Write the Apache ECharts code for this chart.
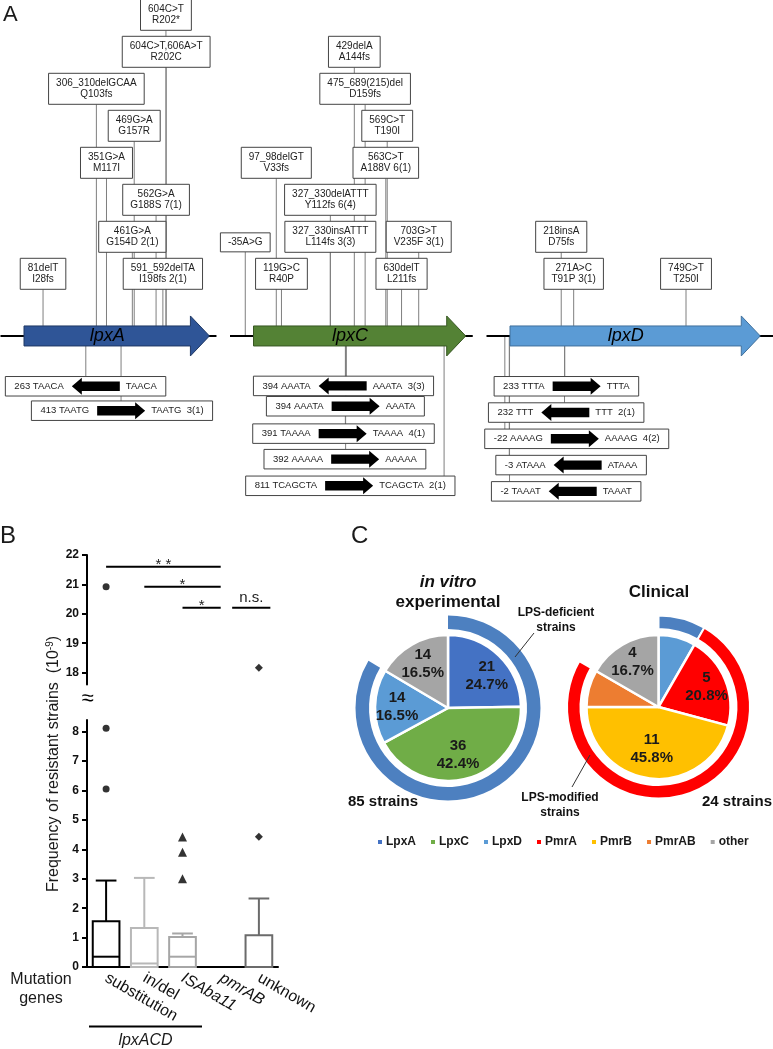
<!DOCTYPE html>
<html><head><meta charset="utf-8">
<script src="https://cdn.jsdelivr.net/npm/echarts@6/dist/echarts.min.js"></script>
<style>html,body{margin:0;padding:0;background:#fff}#c{width:773px;height:1049px}</style>
</head><body><div id="c"></div>
<script>
// ================= DATA =================
// ---- Panel A: genes ----
const geneNames = ['lpxA', 'lpxC', 'lpxD'];
const geneLengths = [789, 903, 1065];          // bp
// point mutations above the genes: [position (nt), nucleotide change, protein change]
const lpxAMutations = [
  [604, '604C>T', 'R202*'],
  [605, '604C>T,606A>T', 'R202C'],
  [308, '306_310delGCAA', 'Q103fs'],
  [469, '469G>A', 'G157R'],
  [351, '351G>A', 'M117I'],
  [562, '562G>A', 'G188S 7(1)'],
  [461, '461G>A', 'G154D 2(1)'],
  [81, '81delT', 'I28fs'],
  [591, '591_592delTA', 'I198fs 2(1)']
];
const lpxCMutations = [
  [429, '429delA', 'A144fs'],
  [475, '475_689(215)del', 'D159fs'],
  [569, '569C>T', 'T190I'],
  [97, '97_98delGT', 'V33fs'],
  [563, '563C>T', 'A188V 6(1)'],
  [327, '327_330delATTT', 'Y112fs 6(4)'],
  [-35, '-35A>G', ''],
  [327, '327_330insATTT', 'L114fs 3(3)'],
  [703, '703G>T', 'V235F 3(1)'],
  [119, '119G>C', 'R40P'],
  [630, '630delT', 'L211fs']
];
const lpxDMutations = [
  [218, '218insA', 'D75fs'],
  [271, '271A>C', 'T91P 3(1)'],
  [749, '749C>T', 'T250I']
];
// ISAba11 insertions below the genes: [position, left target site, orientation (1 = ->, -1 = <-), right target site]
const lpxAInsertions = [
  [263, '263 TAACA', -1, 'TAACA'],
  [413, '413 TAATG', 1, 'TAATG  3(1)']
];
const lpxCInsertions = [
  [394, '394 AAATA', -1, 'AAATA  3(3)'],
  [394, '394 AAATA', 1, 'AAATA'],
  [391, '391 TAAAA', 1, 'TAAAA  4(1)'],
  [392, '392 AAAAA', 1, 'AAAAA'],
  [811, '811 TCAGCTA', 1, 'TCAGCTA  2(1)']
];
const lpxDInsertions = [
  [233, '233 TTTA', 1, 'TTTA'],
  [232, '232 TTT', -1, 'TTT  2(1)'],
  [-22, '-22 AAAAG', 1, 'AAAAG  4(2)'],
  [-3, '-3 ATAAA', -1, 'ATAAA'],
  [-2, '-2 TAAAT', -1, 'TAAAT']
];

// ---- Panel B: frequency of resistant strains (10^-9) ----
const categories = ['substitution', 'in/del', 'ISAba11', 'pmrAB', 'unknown'];
// [Q1, median, Q3, upper whisker]
const boxStats = [
  [0, 0.35, 1.56, 2.94],
  [0, 0.12, 1.33, 3.03],
  [0, 0.35, 1.02, 1.14],
  [0, 0, 0, 0],
  [0, 0, 1.08, 2.33]
];
const outliers = [
  [6.05, 8.12, 20.92],
  [],
  [3.0, 3.9, 4.42],
  [],
  [4.43, 18.17]
];
// significance brackets: [from category, to category, height, label]
const sigBars = [
  [0, 3, 21.6, '* *'],
  [1, 3, 20.92, '*'],
  [2, 3, 20.21, '*'],
  [3.3, 4.3, 20.21, 'n.s.']
];
const lowerTicks = [0, 1, 2, 3, 4, 5, 6, 7, 8];
const upperTicks = [18, 19, 20, 21, 22];

// ---- Panel C: pies ----
const inVitroNames = ['LpxA', 'LpxC', 'LpxD', 'other'];
const inVitroValues = [21, 36, 14, 14];
const clinicalNames = ['LpxD', 'PmrA', 'PmrB', 'PmrAB', 'other'];
const clinicalValues = [2, 5, 11, 2, 4];
const legendNames = ['LpxA', 'LpxC', 'LpxD', 'PmrA', 'PmrB', 'PmrAB', 'other'];

// ================= LAYOUT / STYLE =================
const FONT = "'Liberation Sans', Arial, Helvetica, sans-serif";
const PX_PER_NT = 0.235;
const geneLeftPx = [24, 253.5, 510];
const geneFlankRight = [30, 30, 60];
const geneFill = ['#2f5597', '#548235', '#5b9bd5'];
const geneStroke = ['#1f3864', '#385723', '#41719c'];
const GENE_LEVEL = 8.68;
const mutationRows = [
  [0, 1, 2, 3, 4, 5, 6, 7, 7],
  [1, 2, 3, 4, 4, 5, 6.15, 6, 6, 7, 7],
  [6, 7, 7]
];
const insertionRows = [
  [10.04, 10.70],
  [10.03, 10.58, 11.32, 12.01, 12.73],
  [10.04, 10.75, 11.46, 12.17, 12.88]
];
const insertionBoxCentre = [   // nt coordinate the box is centred on
  [262, 417],
  [383, 391, 383, 389, 412],
  [240, 239, 284, 260, 239]
];
const clinicalLabelShift = [[0, 0], [0, 0], [0, -10], [0, 0], [0, 0]];
const inVitroLabelShift = [[3, 4], [-3, -2], [0, 0], [0, 0]];
const pieColor = {LpxA:'#4472c4', LpxC:'#70ad47', LpxD:'#5b9bd5', PmrA:'#ff0000', PmrB:'#ffc000', PmrAB:'#ed7d31', other:'#a5a5a5'};
const ringBlue = '#4d80c0', ringRed = '#ff0000';
const boxColors = ['#000000', '#b8b8b8', '#a6a6a6', '#999999', '#6b6b6b'];
const outlierSymbols = ['circle', 'circle', 'triangle', 'circle', 'diamond'];

const ctx = document.createElement('canvas').getContext('2d');
function tw(t, size, weight) { ctx.font = (weight || 'normal') + ' ' + size + 'px ' + FONT; return ctx.measureText(t).width; }
function txt(x, y, text, o) {
  o = o || {};
  return {type: 'text', x: x, y: y, rotation: o.rotation || 0, z: 50, silent: true,
    style: Object.assign({text: text, fontSize: o.size || 12, fontFamily: FONT, fontWeight: o.weight || 'normal',
      fontStyle: o.style || 'normal', fill: o.color || '#1a1a1a',
      align: o.align || 'center', textAlign: o.align || 'center',
      verticalAlign: o.va || 'middle', textVerticalAlign: o.va || 'middle', lineHeight: o.lh}, o.extra || {})};
}

const allMutations = [lpxAMutations, lpxCMutations, lpxDMutations];
const allInsertions = [lpxAInsertions, lpxCInsertions, lpxDInsertions];

// ================= SERIES: PANEL A =================
const seriesA = [];
geneNames.forEach((gname, g) => {
  const len = geneLengths[g];
  const muts = allMutations[g], ins = allInsertions[g];
  const geneEdge = (api, pos, side) => {
    const y = api.coord([0, GENE_LEVEL])[1];
    return (pos >= 0 && pos <= len) ? y + side * 10 : y;
  };
  // connectors
  seriesA.push({
    type: 'custom', xAxisIndex: g, yAxisIndex: g, clip: false, z: 1, silent: true,
    data: muts.map((m, i) => [m[0], mutationRows[g][i], 1]).concat(ins.map((m, i) => [m[0], insertionRows[g][i], -1])),
    renderItem: (params, api) => {
      const pos = api.value(0), row = api.value(1), up = api.value(2) > 0;
      const idx = params.dataIndex;
      const c = api.coord([pos, row]);
      let y1, y2;
      if (up) {
        const m = muts[idx];
        const h = m[2] ? 31 : 19;
        y1 = c[1] + h / 2; y2 = geneEdge(api, pos, -1);
      } else {
        y1 = c[1] - 9.75; y2 = geneEdge(api, pos, 1);
      }
      return {type: 'line', shape: {x1: c[0], y1: y1, x2: c[0], y2: y2}, style: {stroke: '#7f7f7f', lineWidth: 1}};
    }
  });
  // gene arrow and backbone
  seriesA.push({
    type: 'custom', xAxisIndex: g, yAxisIndex: g, clip: false, z: 2, silent: true,
    data: [[0, GENE_LEVEL, len]],
    renderItem: (params, api) => {
      const L = api.value(2);
      const s = api.coord([0, GENE_LEVEL]), e = api.coord([L, GENE_LEVEL]);
      const l = api.coord([-100, GENE_LEVEL]), r = api.coord([L + geneFlankRight[g], GENE_LEVEL]);
      const y = s[1], hb = 10, hh = 20, hl = 19;
      return {type: 'group', children: [
        {type: 'line', shape: {x1: l[0], y1: y, x2: r[0], y2: y}, style: {stroke: '#000', lineWidth: 2}},
        {type: 'polygon', shape: {points: [[s[0], y - hb], [e[0] - hl, y - hb], [e[0] - hl, y - hh], [e[0], y], [e[0] - hl, y + hh], [e[0] - hl, y + hb], [s[0], y + hb]]},
          style: {fill: geneFill[g], stroke: geneStroke[g], lineWidth: 1}},
        {type: 'text', x: (s[0] + e[0] - hl) / 2, y: y, style: {text: gname, fontSize: 18, fontStyle: 'italic', fontFamily: FONT, fill: '#000',
          align: 'center', textAlign: 'center', verticalAlign: 'middle', textVerticalAlign: 'middle'}}
      ]};
    }
  });
  // mutation boxes
  seriesA.push({
    type: 'custom', xAxisIndex: g, yAxisIndex: g, clip: false, z: 3, silent: true,
    data: muts.map((m, i) => [m[0], mutationRows[g][i]]),
    renderItem: (params, api) => {
      const m = muts[params.dataIndex];
      const c = api.coord([api.value(0), api.value(1)]);
      const lines = m[2] ? [m[1], m[2]] : [m[1]];
      const w = Math.max.apply(null, lines.map(t => tw(t, 10))) + 15;
      const h = lines.length === 2 ? 31 : 19;
      return {type: 'group', children: [
        {type: 'rect', shape: {x: c[0] - w / 2, y: c[1] - h / 2, width: w, height: h}, style: {fill: '#fff', stroke: '#444', lineWidth: 1}},
        {type: 'text', x: c[0], y: c[1], style: {text: lines.join('\n'), fontSize: 10, fontFamily: FONT, fill: '#222', lineHeight: 11.5,
          align: 'center', textAlign: 'center', verticalAlign: 'middle', textVerticalAlign: 'middle'}}
      ]};
    }
  });
  // insertion boxes
  seriesA.push({
    type: 'custom', xAxisIndex: g, yAxisIndex: g, clip: false, z: 3, silent: true,
    data: ins.map((m, i) => [insertionBoxCentre[g][i], insertionRows[g][i]]),
    renderItem: (params, api) => {
      const m = ins[params.dataIndex];
      const c = api.coord([api.value(0), api.value(1)]);
      const fs = 9.5, lw = tw(m[1], fs), rw = tw(m[3], fs);
      const AW = 48, PAD = 9, G1 = 8, G2 = 6, H = 19.5;
      const W = PAD + lw + G1 + AW + G2 + rw + PAD;
      const x0 = c[0] - W / 2, y = c[1];
      const a0 = x0 + PAD + lw + G1, a1 = a0 + AW;
      const bh = 4.7, hh = 8.5, hl = 10;
      let pts;
      if (m[2] > 0) pts = [[a0, y - bh], [a1 - hl, y - bh], [a1 - hl, y - hh], [a1, y], [a1 - hl, y + hh], [a1 - hl, y + bh], [a0, y + bh]];
      else pts = [[a1, y - bh], [a0 + hl, y - bh], [a0 + hl, y - hh], [a0, y], [a0 + hl, y + hh], [a0 + hl, y + bh], [a1, y + bh]];
      const ts = (t, x) => ({type: 'text', x: x, y: y, style: {text: t, fontSize: fs, fontFamily: FONT, fill: '#222',
        align: 'left', textAlign: 'left', verticalAlign: 'middle', textVerticalAlign: 'middle'}});
      return {type: 'group', children: [
        {type: 'rect', shape: {x: x0, y: y - H / 2, width: W, height: H}, style: {fill: '#fff', stroke: '#444', lineWidth: 1}},
        {type: 'polygon', shape: {points: pts}, style: {fill: '#000'}},
        ts(m[1], x0 + PAD), ts(m[3], a1 + G2)
      ]};
    }
  });
});

// ================= SERIES: PANEL B =================
const seriesB = [];
seriesB.push({
  type: 'custom', xAxisIndex: 4, yAxisIndex: 4, clip: false, z: 5, silent: true,
  data: boxStats.map((s, i) => [i].concat(s)),
  renderItem: (params, api) => {
    const i = api.value(0), q1 = api.value(1), med = api.value(2), q3 = api.value(3), wmax = api.value(4);
    if (!(q3 > 0)) return {type: 'group', children: []};
    const b = api.coord([i, q1]), m = api.coord([i, med]), t = api.coord([i, q3]), w = api.coord([i, wmax]);
    const bw = 26.7, cw = 20.7, col = boxColors[i];
    const st = {stroke: col, lineWidth: 2, fill: null};
    return {type: 'group', children: [
      {type: 'line', shape: {x1: t[0], y1: t[1], x2: w[0], y2: w[1]}, style: st},
      {type: 'line', shape: {x1: w[0] - cw / 2, y1: w[1], x2: w[0] + cw / 2, y2: w[1]}, style: st},
      {type: 'rect', shape: {x: b[0] - bw / 2, y: t[1], width: bw, height: b[1] - t[1]}, style: {stroke: col, lineWidth: 2, fill: 'rgba(255,255,255,0)'}},
      {type: 'line', shape: {x1: m[0] - bw / 2, y1: m[1], x2: m[0] + bw / 2, y2: m[1]}, style: st}
    ]};
  }
});
const lowOut = [], highOut = [];
outliers.forEach((arr, i) => arr.forEach(v => {
  const item = {value: [i, v], symbol: outlierSymbols[i], symbolSize: outlierSymbols[i] === 'triangle' ? 9 : (outlierSymbols[i] === 'diamond' ? 8 : 7)};
  if (v <= 8.4) lowOut.push(item); else highOut.push(item);
}));
seriesB.push({type: 'scatter', xAxisIndex: 4, yAxisIndex: 4, data: lowOut, itemStyle: {color: '#000'}, silent: true, z: 6});
seriesB.push({type: 'scatter', xAxisIndex: 3, yAxisIndex: 3, data: highOut, itemStyle: {color: '#000'}, silent: true, z: 6});
seriesB.push({
  type: 'custom', xAxisIndex: 3, yAxisIndex: 3, clip: false, z: 6, silent: true,
  data: sigBars.map(s => [s[0], s[1], s[2]]),
  renderItem: (params, api) => {
    const p1 = api.coord([api.value(0), api.value(2)]), p2 = api.coord([api.value(1), api.value(2)]);
    const label = sigBars[params.dataIndex][3];
    const isStar = label.indexOf('*') >= 0;
    return {type: 'group', children: [
      {type: 'line', shape: {x1: p1[0], y1: p1[1], x2: p2[0], y2: p2[1]}, style: {stroke: '#000', lineWidth: 2}},
      {type: 'text', x: (p1[0] + p2[0]) / 2, y: p1[1] - (isStar ? 2 : 10), style: {text: label, fontSize: isStar ? 15 : 15, fontFamily: FONT,
        fill: '#222', align: 'center', textAlign: 'center', verticalAlign: 'middle', textVerticalAlign: 'middle'}}
    ]};
  }
});

// ================= SERIES: PANEL C =================
const inVitroTotal = inVitroValues.reduce((a, b) => a + b, 0);
const clinicalTotal = clinicalValues.reduce((a, b) => a + b, 0);
const pieLabel = total => ({show: true, position: 'inside', fontSize: 15, fontWeight: 'bold', fontFamily: FONT, color: '#1a1a1a', lineHeight: 18,
  formatter: p => p.value + '\n' + (p.value / total * 100).toFixed(1) + '%'});
function mainPie(names, values, center, r) {
  return {type: 'pie', center: center, radius: [0, r], startAngle: 90, clockwise: true, silent: true, z: 3,
    label: {show: false}, labelLine: {show: false}, emphasis: {disabled: true},
    itemStyle: {borderColor: '#fff', borderWidth: 2.5},
    data: names.map((n, i) => ({name: n, value: values[i], itemStyle: {color: pieColor[n]}}))};
}
function labelPie(names, values, center, r0, r, total, shifts) {
  return {type: 'pie', center: center, radius: [r0, r], startAngle: 90, clockwise: true, silent: true, z: 4,
    label: pieLabel(total), labelLine: {show: false}, emphasis: {disabled: true}, legendHoverLink: false,
    itemStyle: {color: 'rgba(0,0,0,0)', borderWidth: 0},
    data: names.map((n, i) => ({name: n + ' ', value: values[i], label: {offset: shifts[i]}}))};
}
const deficientIV = inVitroValues.filter((v, i) => inVitroNames[i].indexOf('Lpx') === 0).reduce((a, b) => a + b, 0);
const deficientCl = clinicalValues.filter((v, i) => clinicalNames[i].indexOf('Lpx') === 0).reduce((a, b) => a + b, 0);
const modifiedCl = clinicalValues.filter((v, i) => clinicalNames[i].indexOf('Pmr') === 0).reduce((a, b) => a + b, 0);
const ringBase = {type: 'pie', startAngle: 90, clockwise: true, silent: true, z: 3, label: {show: false}, labelLine: {show: false},
  emphasis: {disabled: true}, legendHoverLink: false};
const seriesC = [
  mainPie(inVitroNames, inVitroValues, [448, 708], 73),
  mainPie(clinicalNames, clinicalValues, [658.5, 707], 72),
  Object.assign({}, ringBase, {center: [448, 708], radius: [79, 92.5],
    data: [{name: 'LPS-deficient strains', value: deficientIV, itemStyle: {color: ringBlue}},
      {name: 'rest', value: inVitroTotal - deficientIV, itemStyle: {color: 'rgba(0,0,0,0)'}}]}),
  Object.assign({}, ringBase, {center: [658.5, 707], radius: [78, 91.5],
    itemStyle: {borderColor: '#fff', borderWidth: 2},
    data: [{name: 'LPS-deficient strains', value: deficientCl, itemStyle: {color: ringBlue}},
      {name: 'LPS-modified strains', value: modifiedCl, itemStyle: {color: ringRed}},
      {name: 'rest', value: clinicalTotal - deficientCl - modifiedCl, itemStyle: {color: 'rgba(0,0,0,0)', borderWidth: 0}}]}),
  labelPie(inVitroNames, inVitroValues, [448, 708], 23, 73, inVitroTotal, inVitroLabelShift),
  labelPie(clinicalNames, clinicalValues, [658.5, 707], 26, 72, clinicalTotal, clinicalLabelShift)
];

// ================= AXES =================
const xAxes = [], yAxes = [], grids = [];
geneNames.forEach((n, g) => {
  grids.push({left: geneLeftPx[g], top: 0, width: geneLengths[g] * PX_PER_NT, height: 518});
  xAxes.push({type: 'value', gridIndex: g, min: 0, max: geneLengths[g], show: false});
  yAxes.push({type: 'value', gridIndex: g, min: -0.4, max: 13.6, inverse: true, show: false});
});
grids.push({left: 87, top: 555, width: 191, height: 129.4});
grids.push({left: 87, top: 720, width: 191, height: 247});
const yStyle = {
  axisLine: {show: true, onZero: false, lineStyle: {color: '#000', width: 2}},
  axisTick: {show: true, length: 5, lineStyle: {color: '#000', width: 2}},
  axisLabel: {fontSize: 12, fontWeight: 'bold', color: '#111', margin: 8, fontFamily: FONT},
  splitLine: {show: false}
};
xAxes.push({type: 'value', gridIndex: 3, min: -0.5, max: 4.5, show: false});
xAxes.push({type: 'category', gridIndex: 4, data: categories, boundaryGap: true,
  axisLine: {onZero: false, lineStyle: {color: '#000', width: 2}}, axisTick: {show: false},
  axisLabel: {interval: 0, rotate: -30, fontSize: 16, color: '#111', margin: 10, fontFamily: FONT,
    formatter: v => (v === 'ISAba11' || v === 'pmrAB') ? '{i|' + v + '}' : v,
    rich: {i: {fontStyle: 'italic', fontSize: 16, fontFamily: FONT, color: '#111'}}}});
yAxes.push(Object.assign({type: 'value', gridIndex: 3, min: 17.6, max: 22}, JSON.parse(JSON.stringify(yStyle)),
  {axisTick: Object.assign({}, yStyle.axisTick, {customValues: upperTicks}),
   axisLabel: Object.assign({}, yStyle.axisLabel, {customValues: upperTicks})}));
yAxes.push(Object.assign({type: 'value', gridIndex: 4, min: 0, max: 8.4}, JSON.parse(JSON.stringify(yStyle)),
  {axisTick: Object.assign({}, yStyle.axisTick, {customValues: lowerTicks}),
   axisLabel: Object.assign({}, yStyle.axisLabel, {customValues: lowerTicks})}));

// ================= GRAPHIC (annotations) =================
const graphics = [
  txt(3, 4, 'A', {size: 22, align: 'left', va: 'top'}),
  txt(0, 524, 'B', {size: 24, align: 'left', va: 'top'}),
  txt(351, 524, 'C', {size: 24, align: 'left', va: 'top'}),
  {type: 'rect', shape: {x: 80, y: 690, width: 16, height: 20}, style: {fill: '#fff'}, z: 40, silent: true},
  txt(87.5, 699, '≈', {size: 22, color: '#000'}),
  {type: 'text', x: 54, y: 764, rotation: Math.PI / 2, z: 50, silent: true,
    style: {text: '{a|Frequency of resistant strains  (10}{s|-9}{a|)}', align: 'center', textAlign: 'center', verticalAlign: 'middle', textVerticalAlign: 'middle',
      rich: {a: {fontSize: 16, fontFamily: FONT, fill: '#1a1a1a', color: '#1a1a1a'}, s: {fontSize: 10, fontFamily: FONT, fill: '#1a1a1a', color: '#1a1a1a', verticalAlign: 'top', padding: [0, 0, 8, 0]}}}},
  txt(41, 989, 'Mutation\ngenes', {size: 16, lh: 19}),
  {type: 'line', shape: {x1: 89, y1: 1026.5, x2: 202, y2: 1026.5}, style: {stroke: '#000', lineWidth: 2}, silent: true},
  txt(145.5, 1041, 'lpxACD', {size: 16, style: 'italic'}),
  txt(448, 582, 'in vitro', {size: 17, weight: 'bold', style: 'italic', color: '#111'}),
  txt(448, 602, 'experimental', {size: 17, weight: 'bold', color: '#111'}),
  txt(659, 592, 'Clinical', {size: 17, weight: 'bold', color: '#111'}),
  txt(556, 620, 'LPS-deficient\nstrains', {size: 12, weight: 'bold', lh: 15, color: '#111'}),
  {type: 'line', shape: {x1: 534, y1: 633, x2: 515, y2: 657}, style: {stroke: '#333', lineWidth: 1}, silent: true, z: 50},
  txt(560, 805, 'LPS-modified\nstrains', {size: 12, weight: 'bold', lh: 15, color: '#111'}),
  {type: 'line', shape: {x1: 572, y1: 787, x2: 590, y2: 755}, style: {stroke: '#333', lineWidth: 1}, silent: true, z: 50},
  txt(418, 802, inVitroTotal + ' strains', {size: 15, weight: 'bold', align: 'right', color: '#111'}),
  txt(772, 802, clinicalTotal + ' strains', {size: 15, weight: 'bold', align: 'right', color: '#111'})
];

const option = {
  animation: false,
  backgroundColor: '#ffffff',
  textStyle: {fontFamily: FONT},
  grid: grids,
  xAxis: xAxes,
  yAxis: yAxes,
  legend: {data: legendNames, left: 371, top: 831, icon: 'rect', itemWidth: 6, itemHeight: 6, itemGap: 13, selectedMode: false,
    textStyle: {fontSize: 12, fontWeight: 'bold', fontFamily: FONT, color: '#1a1a1a', padding: [0, 0, 0, -2]}},
  series: seriesA.concat(seriesB, seriesC),
  graphic: graphics
};
const chart = echarts.init(document.getElementById('c'), null, {renderer: 'canvas'});
chart.setOption(option);
</script>
</body></html>
